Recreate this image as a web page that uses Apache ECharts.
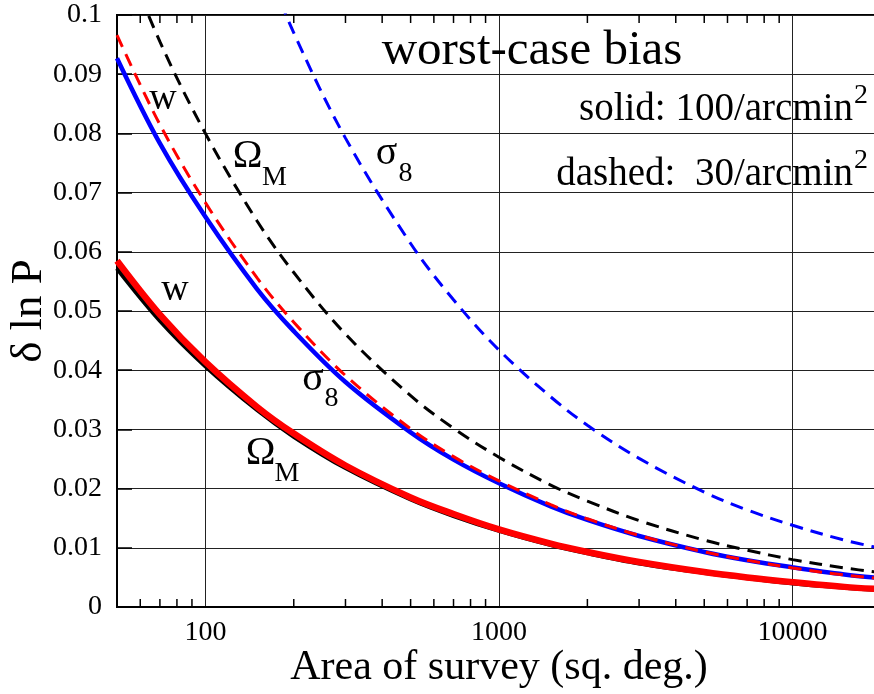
<!DOCTYPE html>
<html>
<head>
<meta charset="utf-8">
<script src="https://cdn.jsdelivr.net/npm/echarts@6/dist/echarts.min.js"></script>
<style>
html,body{margin:0;padding:0;background:#fff;}
#chart{width:874px;height:694px;}
</style>
</head>
<body>
<div id="chart"></div>
<script>
// ---- data ----
const areas = [50, 70, 100, 150, 200, 300, 500, 700, 1000, 1500, 2000, 3000, 5000, 7000, 10000, 15000, 20000];
const omegaSolid = [0.0572, 0.0484, 0.0407, 0.0333, 0.0288, 0.0235, 0.0182, 0.0154, 0.0129, 0.0105, 0.0091, 0.0074, 0.0058, 0.0049, 0.0040, 0.0033, 0.0029];
const wSolid     = [0.0585, 0.0494, 0.0414, 0.0338, 0.0293, 0.0239, 0.0185, 0.0157, 0.0131, 0.0107, 0.0093, 0.0076, 0.0059, 0.0050, 0.0042, 0.0034, 0.0030];
const sigmaSolid = [0.0927, 0.0783, 0.0659, 0.0537, 0.0466, 0.0380, 0.0295, 0.0249, 0.0209, 0.0170, 0.0147, 0.0120, 0.0093, 0.0079, 0.0067, 0.0055, 0.0049];
const wDashed    = [0.0966, 0.0815, 0.0683, 0.0556, 0.0481, 0.0391, 0.0301, 0.0254, 0.0213, 0.0173, 0.0149, 0.0121, 0.0093, 0.0079, 0.0066, 0.0054, 0.0048];
const omegaDashed= [0.1130, 0.0955, 0.0800, 0.0652, 0.0565, 0.0461, 0.0357, 0.0302, 0.0253, 0.0206, 0.0179, 0.0146, 0.0113, 0.0096, 0.0080, 0.0066, 0.0058];
const sigmaAreas = [150, 200, 300, 500, 700, 1000, 1500, 2000, 3000, 5000, 7000, 10000, 15000, 20000];
const sigmaDashed= [0.1120, 0.0970, 0.0792, 0.0614, 0.0519, 0.0434, 0.0355, 0.0307, 0.0251, 0.0194, 0.0164, 0.0138, 0.0113, 0.0099];
const xTickLabels = [100, 1000, 10000];
const minorTicks = [60, 70, 80, 90, 200, 300, 400, 500, 600, 700, 800, 900, 2000, 3000, 4000, 5000, 6000, 7000, 8000, 9000];
const yTickLabels = ['0', '0.01', '0.02', '0.03', '0.04', '0.05', '0.06', '0.07', '0.08', '0.09', '0.1'];

const FONT = "'Liberation Serif', 'Times New Roman', serif";
const pairs = (xs, ys) => xs.map((x, i) => [x, ys[i]]);

function lineSeries(xs, ys, color, width, dash) {
  return {
    type: 'line', data: pairs(xs, ys), smooth: 0.35, symbol: 'none', silent: true,
    clip: true,
    lineStyle: { color: color, width: width, type: dash || 'solid', cap: 'butt' }
  };
}

const chart = echarts.init(document.getElementById('chart'), null, { renderer: 'canvas' });

function txt(x, y, text, size, align) {
  return { type: 'text', x: x, y: y, silent: true, z: 100,
    style: { text: text, fontFamily: FONT, fontSize: size, fill: '#000',
      align: align || 'center', verticalAlign: 'middle' } };
}

chart.setOption({
  animation: false,
  backgroundColor: '#fff',
  grid: { left: 117, right: -7, top: 15, bottom: 87, show: true, borderColor: '#000', borderWidth: 2,
    containLabel: false, outerBoundsMode: 'none' },
  xAxis: {
    type: 'log', logBase: 10, min: 50, max: 20000,
    name: 'Area of survey (sq. deg.)', nameLocation: 'middle', nameGap: 40, nameMoveOverlap: false,
    nameTextStyle: { fontFamily: FONT, fontSize: 42, color: '#000' },
    axisLine: { lineStyle: { color: '#000', width: 2 } },
    axisTick: { show: false },
    minorTick: { show: false },
    axisLabel: { fontFamily: FONT, fontSize: 28, color: '#000', margin: 11.5,
      formatter: v => { const r = Math.round(v); return xTickLabels.indexOf(r) >= 0 ? String(r) : ''; } },
    splitLine: { show: true, lineStyle: { color: '#222', width: 1 } }
  },
  yAxis: {
    type: 'value', min: 0, max: 0.1, interval: 0.01,
    name: 'δ ln P', nameLocation: 'middle', nameGap: 65, nameMoveOverlap: false,
    nameTextStyle: { fontFamily: FONT, fontSize: 45, color: '#000' },
    axisLine: { show: true, lineStyle: { color: '#000', width: 2 } },
    axisTick: { show: true, inside: true, length: 15, lineStyle: { color: '#000', width: 1.5 } },
    axisLabel: { fontFamily: FONT, fontSize: 28, color: '#000', margin: 15,
      formatter: v => yTickLabels[Math.round(v / 0.01)] },
    splitLine: { show: true, lineStyle: { color: '#222', width: 1 } }
  },
  series: [
    {
      type: 'custom', coordinateSystem: 'cartesian2d', silent: true, z: 5,
      data: minorTicks.map(v => [v, 0]),
      encode: { x: 0, y: 1 },
      renderItem: (params, api) => {
        const v = api.value(0);
        const b = api.coord([v, 0]);
        const t = api.coord([v, 0.1]);
        return { type: 'group', children: [
          { type: 'line', shape: { x1: b[0], y1: b[1], x2: b[0], y2: b[1] - 8 }, style: { stroke: '#000', lineWidth: 1.5 } },
          { type: 'line', shape: { x1: t[0], y1: t[1], x2: t[0], y2: t[1] + 8 }, style: { stroke: '#000', lineWidth: 1.5 } }
        ] };
      }
    },
    lineSeries(areas, omegaSolid, '#000000', 4.5),
    lineSeries(areas, wSolid, '#ff0000', 6.5),
    lineSeries(areas, sigmaSolid, '#0000ff', 4.5),
    lineSeries(areas, wDashed, '#ff0000', 3, [13, 8]),
    lineSeries(areas, omegaDashed, '#000000', 3, [13, 8]),
    lineSeries(sigmaAreas, sigmaDashed, '#0000ff', 3, [13, 8])
  ],
  graphic: [
    txt(532, 51, 'worst-case bias', 49),
    txt(853, 110, 'solid: 100/arcmin', 39, 'right'),
    txt(854, 96, '2', 28, 'left'),
    txt(853, 175, 'dashed:  30/arcmin', 39, 'right'),
    txt(854, 161, '2', 28, 'left'),
    // upper labels (dashed curves)
    txt(163, 99, 'w', 38),
    txt(247.5, 156.5, 'Ω', 40),
    txt(274.5, 177.5, 'M', 28),
    txt(386.5, 153.5, 'σ', 40),
    txt(405.5, 173.5, '8', 28),
    // lower labels (solid curves)
    txt(175, 290, 'w', 38),
    txt(313, 379.5, 'σ', 40),
    txt(331.5, 398.5, '8', 28),
    txt(260.5, 453.5, 'Ω', 40),
    txt(287, 473.5, 'M', 28)
  ]
});
</script>
</body>
</html>
